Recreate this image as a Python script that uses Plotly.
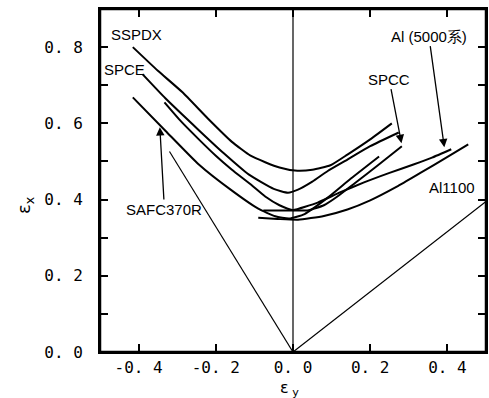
import plotly.graph_objects as go

# ---- data (eps_y, eps_x) ----
sspdx_x = [-0.415, -0.35, -0.287, -0.22, -0.159, -0.11, -0.072, -0.035, 0.005, 0.05, 0.097, 0.141, 0.2, 0.256]
sspdx_y = [0.800, 0.738, 0.682, 0.612, 0.552, 0.515, 0.498, 0.484, 0.476, 0.478, 0.490, 0.518, 0.558, 0.600]

spce_x = [-0.39, -0.33, -0.244, -0.18, -0.115, -0.05, -0.013, 0.013, 0.05, 0.09, 0.141, 0.2, 0.274]
spce_y = [0.729, 0.665, 0.582, 0.522, 0.466, 0.428, 0.418, 0.426, 0.447, 0.475, 0.505, 0.540, 0.576]

spcc_x = [-0.333, -0.29, -0.244, -0.2, -0.159, -0.11, -0.072, -0.035, 0.0, 0.04, 0.08, 0.115, 0.16, 0.22, 0.282]
spcc_y = [0.655, 0.605, 0.558, 0.515, 0.479, 0.440, 0.408, 0.385, 0.372, 0.372, 0.385, 0.408, 0.443, 0.490, 0.540]

safc_x = [-0.415, -0.33, -0.244, -0.159, -0.09, -0.046, -0.01, 0.03, 0.09, 0.15, 0.223]
safc_y = [0.668, 0.580, 0.492, 0.424, 0.376, 0.356, 0.350, 0.362, 0.405, 0.455, 0.513]

al5000_x = [-0.077, -0.03, 0.0, 0.064, 0.12, 0.184, 0.25, 0.312, 0.36, 0.41]
al5000_y = [0.371, 0.371, 0.372, 0.392, 0.418, 0.445, 0.470, 0.492, 0.510, 0.532]

al1100_x = [-0.09, -0.04, 0.013, 0.08, 0.141, 0.2, 0.269, 0.33, 0.397, 0.454]
al1100_y = [0.352, 0.349, 0.347, 0.357, 0.374, 0.398, 0.434, 0.470, 0.510, 0.545]

ref_left_x = [-0.32, 0.0]
ref_left_y = [0.526, 0.0]
ref_right_x = [0.0, 0.5]
ref_right_y = [0.0, 0.395]
vert_x = [0.0, 0.0]
vert_y = [0.0, 0.9]

x_range = [-0.5, 0.5]
y_range = [0.0, 0.9]
x_ticks = [-0.4, -0.2, 0.0, 0.2, 0.4]
x_ticktext = ["-0. 4", "-0. 2", "0. 0", "0. 2", "0. 4"]
y_ticks = [0.0, 0.2, 0.4, 0.6, 0.8]
y_ticktext = ["0. 0", "0. 2", "0. 4", "0. 6", "0. 8"]

# labels: (text, x, y) and arrows (text, tail_x, tail_y, head_x, head_y)
plain_labels = [("SSPDX", -0.405, 0.834), ("SPCE", -0.436, 0.742), ("Al1100", 0.413, 0.432)]
arrow_labels = [
    ("SAFC370R", -0.333, 0.374, -0.345, 0.590),
    ("SPCC", 0.249, 0.716, 0.281, 0.548),
    ("Al (5000系)", 0.352, 0.829, 0.392, 0.537),
]

fig = go.Figure()
thick = dict(color="black", width=2)
thin = dict(color="black", width=1.2)
for xs, ys in [(sspdx_x, sspdx_y), (spce_x, spce_y), (spcc_x, spcc_y),
               (safc_x, safc_y), (al5000_x, al5000_y), (al1100_x, al1100_y)]:
    fig.add_trace(go.Scatter(x=xs, y=ys, mode="lines", line=dict(thick, shape="spline", smoothing=0.5),
                             showlegend=False, hoverinfo="skip"))
for xs, ys in [(ref_left_x, ref_left_y), (ref_right_x, ref_right_y), (vert_x, vert_y)]:
    fig.add_trace(go.Scatter(x=xs, y=ys, mode="lines", line=thin, showlegend=False, hoverinfo="skip"))

# frame around the plotting area, drawn from the axis ranges
frame_x = [x_range[0], x_range[1], x_range[1], x_range[0], x_range[0]]
frame_y = [y_range[0], y_range[0], y_range[1], y_range[1], y_range[0]]
fig.add_trace(go.Scatter(x=frame_x, y=frame_y, mode="lines", line=dict(color="black", width=2.5),
                         cliponaxis=False, showlegend=False, hoverinfo="skip"))

lab_font = dict(family="Liberation Sans, Arial", size=15, color="black")
for t, x, y in plain_labels:
    fig.add_annotation(x=x, y=y, text=t, showarrow=False, font=lab_font)
for t, tx, ty, hx, hy in arrow_labels:
    fig.add_annotation(x=hx, y=hy, ax=tx, ay=ty, axref="x", ayref="y", text=t,
                       showarrow=True, arrowhead=2, arrowsize=1.3, arrowwidth=1.3,
                       arrowcolor="black", font=lab_font)

tick_font = dict(family="DejaVu Sans Mono", size=16, color="black")
fig.update_xaxes(range=x_range, tickvals=x_ticks, ticktext=x_ticktext, ticks="inside", ticklen=8,
                 tickwidth=1.5, tickcolor="black", showline=True, linewidth=2, linecolor="black",
                 mirror="ticks", showgrid=False, zeroline=False, tickfont=tick_font)
fig.update_yaxes(range=y_range, tickvals=y_ticks, ticktext=y_ticktext, ticks="inside", ticklen=8,
                 tickwidth=1.5, tickcolor="black", showline=True, linewidth=2, linecolor="black",
                 mirror="ticks", showgrid=False, zeroline=False, tickfont=tick_font,
                 ticklabelstandoff=12,
                 minor=dict(dtick=0.1, tick0=0, ticks="inside", ticklen=8, tickwidth=1.5, tickcolor="black"))

fig.add_annotation(xref="paper", yref="paper", x=0.49, y=-0.106, text="ε<sub> y</sub>",
                   showarrow=False, font=dict(family="DejaVu Sans", size=16, color="black"),
                   yanchor="middle")
fig.add_annotation(xref="paper", yref="paper", x=-0.232, y=0.43, text="ε<sub>x</sub>", textangle=-90,
                   showarrow=False, font=dict(family="DejaVu Sans", size=18, color="black"))

fig.update_layout(width=489, height=398, margin=dict(l=100, r=1, t=9, b=46),
                  plot_bgcolor="white", paper_bgcolor="white")
fig.write_html("out.html")
